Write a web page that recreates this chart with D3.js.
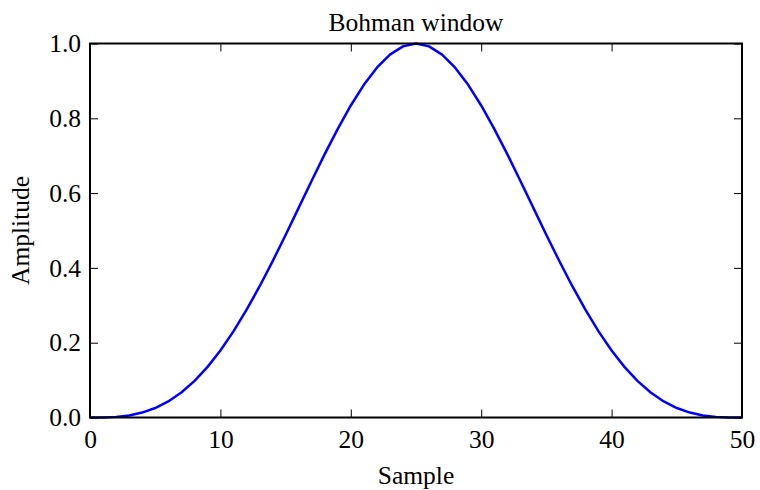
<!DOCTYPE html>
<html><head><meta charset="utf-8">
<script src="https://cdn.jsdelivr.net/npm/d3@7"></script>
<style>body{margin:0;background:#fff}svg{display:block}text{font-family:"Liberation Serif","Times New Roman",serif;fill:#000}</style>
</head><body><svg id="c" width="760" height="490"></svg>
<script>
const samples = d3.range(0, 51);
const amplitude = [0, 0.000209, 0.001674, 0.005605, 0.013137, 0.025295, 0.042945, 0.066782, 0.097294, 0.134736,
  0.179124, 0.230224, 0.287542, 0.350333, 0.417605, 0.488141, 0.560515, 0.633121, 0.704206, 0.771914,
  0.834312, 0.889444, 0.935381, 0.970257, 0.992324, 1.0, 0.992324, 0.970257, 0.935381, 0.889444,
  0.834312, 0.771914, 0.704206, 0.633121, 0.560515, 0.488141, 0.417605, 0.350333, 0.287542, 0.230224,
  0.179124, 0.134736, 0.097294, 0.066782, 0.042945, 0.025295, 0.013137, 0.005605, 0.001674, 0.000209, 0];
const xTicks = [0, 10, 20, 30, 40, 50];
const yTicks = [0.0, 0.2, 0.4, 0.6, 0.8, 1.0];
const title = "Bohman window", xLabel = "Sample", yLabel = "Amplitude";

const L = 90, R = 742, T = 43.5, B = 417.5;
const svg = d3.select("#c");
const x = d3.scaleLinear().domain([0, 50]).range([L, R]);
const y = d3.scaleLinear().domain([0, 1]).range([B, T]);
const fs = 25.5, tl = 8;

const line = d3.line().x((d, i) => x(samples[i])).y(d => y(d));
svg.append("path").datum(amplitude).attr("d", line).attr("fill", "none")
  .attr("stroke", "#0000ff").attr("stroke-width", 2.5).attr("stroke-linejoin", "round");

const g = svg.append("g");
const xb = g.append("g").attr("transform", `translate(0,${B})`)
  .call(d3.axisBottom(x).tickValues(xTicks).tickFormat(d3.format("d")).tickSizeInner(-tl).tickSizeOuter(0).tickPadding(12));
const xt = g.append("g").attr("transform", `translate(0,${T})`)
  .call(d3.axisTop(x).tickValues(xTicks).tickFormat("").tickSizeInner(-tl).tickSizeOuter(0));
const yl = g.append("g").attr("transform", `translate(${L},0)`)
  .call(d3.axisLeft(y).tickValues(yTicks).tickFormat(d3.format(".1f")).tickSizeInner(-tl).tickSizeOuter(0).tickPadding(9));
const yr = g.append("g").attr("transform", `translate(${R},0)`)
  .call(d3.axisRight(y).tickValues(yTicks).tickFormat("").tickSizeInner(-tl).tickSizeOuter(0));
[xb, xt, yl, yr].forEach(a => {
  a.select(".domain").remove();
  a.selectAll(".tick line").attr("stroke", "#000").attr("stroke-width", 1);
  a.selectAll("text").attr("font-size", fs).attr("font-family", "Liberation Serif");
});
svg.append("rect").attr("x", L).attr("y", T).attr("width", R - L).attr("height", B - T)
  .attr("fill", "none").attr("stroke", "#000").attr("stroke-width", 2);

svg.append("text").attr("x", (L + R) / 2).attr("y", 30.5).attr("text-anchor", "middle").attr("font-size", fs).text(title);
svg.append("text").attr("x", (L + R) / 2).attr("y", 484).attr("text-anchor", "middle").attr("font-size", fs).text(xLabel);
svg.append("text").attr("transform", `translate(29,${(T + B) / 2}) rotate(-90)`).attr("text-anchor", "middle").attr("font-size", fs).text(yLabel);
</script></body></html>
